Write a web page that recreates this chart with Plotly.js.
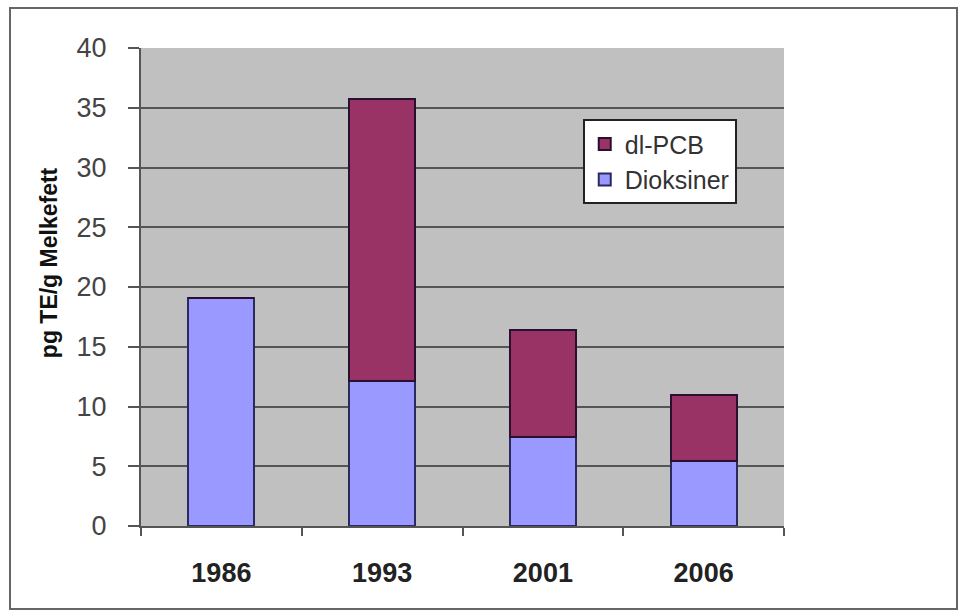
<!DOCTYPE html>
<html>
<head>
<meta charset="utf-8">
<script src="https://cdn.plot.ly/plotly-3.0.1.min.js"></script>
<style>
html,body{margin:0;padding:0;background:#fff;}
#wrap{position:relative;width:960px;height:616px;}
#chart{width:960px;height:616px;}
#frame{position:absolute;left:9px;top:7px;width:949px;height:603px;border:2px solid #666;pointer-events:none;box-sizing:border-box;}
</style>
</head>
<body>
<div id="wrap"><div id="chart"></div><div id="frame"></div></div>
<script>
const years = ['1986', '1993', '2001', '2006'];
const dioksiner = [19.1, 12.1, 7.45, 5.45];
const dlPCB = [0, 23.6, 8.95, 5.55];
const yTicks = [0, 5, 10, 15, 20, 25, 30, 35, 40];
const yTitle = 'pg TE/g Melkefett';

const traces = [
  {type:'bar', name:'Dioksiner', x:years, y:dioksiner, width:0.41,
   marker:{color:'#9999ff', line:{color:'#2a2a5e', width:2}}},
  {type:'bar', name:'dl-PCB', x:years, y:dlPCB, width:0.41,
   marker:{color:'#993366', line:{color:'#2a1030', width:2}}}
];

const layout = {
  width:960, height:616,
  margin:{l:141, r:176, t:48, b:90},
  paper_bgcolor:'#ffffff', plot_bgcolor:'#c0c0c0',
  barmode:'stack', showlegend:true,
  font:{family:'Liberation Sans, Arial, sans-serif', color:'#333'},
  xaxis:{type:'category', tickson:'boundaries', ticks:'outside', ticklen:8, tickcolor:'#555', tickwidth:2,
         showline:true, linecolor:'#555', linewidth:2, showgrid:false,
         tickfont:{size:27, color:'#222', weight:'bold'}, ticklabelstandoff:22},
  yaxis:{range:[0,40], tickvals:yTicks, ticks:'outside', ticklen:11, tickcolor:'#555', tickwidth:2,
         showline:true, linecolor:'#555', linewidth:2, gridcolor:'#555', gridwidth:2, zeroline:false,
         tickfont:{size:27, color:'#444'}, ticklabelstandoff:16},
  annotations:[{text:yTitle, textangle:-90, xref:'paper', yref:'paper', x:-0.143, y:0.55,
                xanchor:'center', yanchor:'middle', showarrow:false,
                font:{size:23, color:'#111', weight:'bold'}}],
  legend:{x:0.687, y:0.851, xanchor:'left', yanchor:'top', traceorder:'reversed',
          bgcolor:'#ffffff', bordercolor:'#222', borderwidth:2,
          font:{size:25, color:'#333'}, itemwidth:30}
};

Plotly.newPlot('chart', traces, layout, {displayModeBar:false, staticPlot:true});
</script>
</body>
</html>
